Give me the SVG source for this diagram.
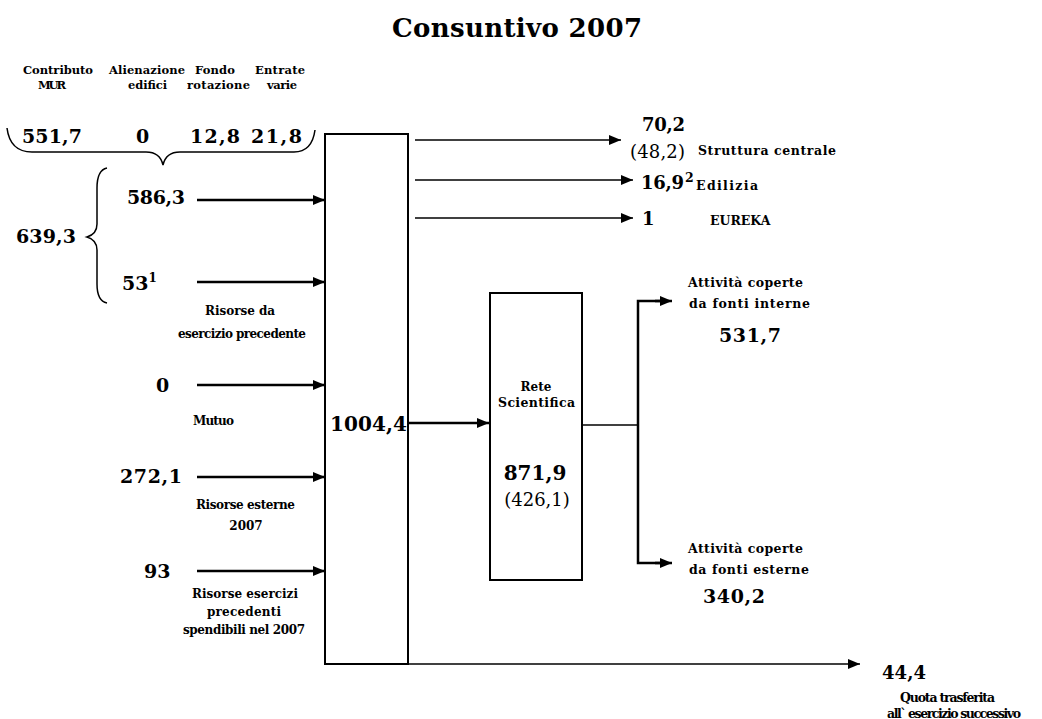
<svg xmlns="http://www.w3.org/2000/svg" width="1042" height="719" viewBox="0 0 1042 719">
<style>
text{font-family:"DejaVu Serif","Liberation Serif",serif;fill:#000}
.t{font-size:26px;font-weight:bold}
.n{font-size:19px;font-weight:bold}
.rn{font-size:18px;font-weight:bold}
.big{font-size:20px;font-weight:bold}
.h{font-size:11.5px;font-weight:bold}
.s{font-size:12px;font-weight:bold}
.m{font-size:12.5px;font-weight:bold}
.p{font-size:18px}
.c{text-anchor:middle}
.th{stroke:#000;stroke-width:2.5;fill:none}
.tn{stroke:#000;stroke-width:1.5;fill:none}
.box{stroke:#000;stroke-width:2;fill:#fff}
</style>
<defs>
<marker id="ah" viewBox="0 0 12 10" refX="12" refY="5" markerWidth="12" markerHeight="10" markerUnits="userSpaceOnUse" orient="auto">
<path d="M0,0 L12,5 L0,10 Z" fill="#000"/>
</marker>
</defs>
<rect width="1042" height="719" fill="#fff"/>
<text class="t" x="392" y="37" textLength="250">Consuntivo 2007</text>

<g id="header">
<text class="h" x="23" y="74" textLength="70">Contributo</text>
<text class="h" x="38" y="89" textLength="28">MUR</text>
<text class="h" x="109" y="74" textLength="76">Alienazione</text>
<text class="h" x="128" y="89" textLength="39">edifici</text>
<text class="h" x="195" y="74" textLength="40">Fondo</text>
<text class="h" x="187" y="89" textLength="63">rotazione</text>
<text class="h" x="255" y="74" textLength="50">Entrate</text>
<text class="h" x="267" y="89" textLength="30">varie</text>
<text class="n" x="22" y="143" textLength="60">551,7</text>
<text class="n" x="136" y="143">0</text>
<text class="n" x="190" y="143" textLength="50">12,8</text>
<text class="n" x="251" y="143" textLength="51">21,8</text>
<path class="tn" d="M7,128 Q10,152 32,152 L146,152 Q160,152 163,165 Q166,152 180,152 L294,152 Q312,152 315,130"/>
</g>

<g id="sources">
<path class="tn" d="M107,168 Q97,170 97,188 L97,224 Q97,234 87,237 Q97,240 97,250 L97,284 Q97,301 107,303"/>
<text class="n" x="16" y="243" textLength="60">639,3</text>
<text class="n" x="127" y="204" textLength="58">586,3</text>
<text class="n" x="122" y="290">53<tspan font-size="12" dy="-8">1</tspan></text>
<text class="s" x="205" y="315" textLength="70">Risorse da</text>
<text class="s" x="178" y="338" textLength="128">esercizio precedente</text>
<text class="n" x="156" y="392">0</text>
<text class="s" x="193" y="425" textLength="41">Mutuo</text>
<text class="n" x="120" y="483" textLength="62">272,1</text>
<text class="s" x="196" y="509" textLength="99">Risorse esterne</text>
<text class="s c" x="246" y="530">2007</text>
<text class="n" x="144" y="578">93</text>
<text class="s" x="192" y="598" textLength="106">Risorse esercizi</text>
<text class="s" x="207" y="616" textLength="74">precedenti</text>
<text class="s" x="183" y="634" textLength="122">spendibili nel 2007</text>
</g>

<g id="central">
<rect class="box" x="325" y="134" width="83" height="530"/>
<text class="big" x="330" y="431" textLength="77">1004,4</text>
</g>

<g id="rete">
<rect class="box" x="490" y="293" width="92" height="287"/>
<text class="s c" x="536" y="391">Rete</text>
<text class="m" x="498" y="407" textLength="77">Scientifica</text>
<text class="big c" x="535" y="480">871,9</text>
<text class="p c" x="537" y="506" font-size="20">(426,1)</text>
</g>

<g id="outputs">
<text class="rn" x="642" y="131" textLength="43">70,2</text>
<text class="p" x="630" y="158" textLength="55">(48,2)</text>
<text class="m" x="698" y="155" textLength="138">Struttura centrale</text>
<text class="rn" x="641" y="189" textLength="43">16,9</text>
<text class="m" x="685" y="182" font-size="11" font-weight="normal">2</text>
<text class="m" x="696" y="190" textLength="62">Edilizia</text>
<text class="rn" x="642" y="225">1</text>
<text class="m" x="710" y="225" font-size="13">EUREKA</text>
<text class="m" x="688" y="287" textLength="115">Attività coperte</text>
<text class="m" x="689" y="308" textLength="121">da fonti interne</text>
<text class="n" x="719" y="342" textLength="62">531,7</text>
<text class="m" x="688" y="553" textLength="115">Attività coperte</text>
<text class="m" x="689" y="574" textLength="120">da fonti esterne</text>
<text class="n" x="703" y="603" textLength="62">340,2</text>
<text class="rn" x="882" y="679" textLength="44">44,4</text>
<text class="m" x="900" y="702" textLength="95">Quota trasferita</text>
<text class="m" x="887" y="718" textLength="134">all` esercizio successivo</text>
</g>

<g id="connectors">
<line class="th" x1="197" y1="200" x2="325" y2="200" marker-end="url(#ah)"/>
<line class="th" x1="197" y1="282" x2="325" y2="282" marker-end="url(#ah)"/>
<line class="th" x1="197" y1="385" x2="325" y2="385" marker-end="url(#ah)"/>
<line class="th" x1="197" y1="477" x2="325" y2="477" marker-end="url(#ah)"/>
<line class="th" x1="197" y1="571" x2="325" y2="571" marker-end="url(#ah)"/>
<line class="tn" x1="415" y1="140" x2="621" y2="140" marker-end="url(#ah)"/>
<line class="tn" x1="415" y1="180" x2="633" y2="180" marker-end="url(#ah)"/>
<line class="tn" x1="415" y1="218" x2="633" y2="218" marker-end="url(#ah)"/>
<line class="th" x1="408" y1="423" x2="489" y2="423" marker-end="url(#ah)"/>
<line class="tn" x1="582" y1="425" x2="638" y2="425"/>
<polyline class="th" points="660,301 638,301 638,563 660,563"/>
<line class="th" x1="655" y1="301" x2="672" y2="301" marker-end="url(#ah)"/>
<line class="th" x1="655" y1="563" x2="672" y2="563" marker-end="url(#ah)"/>
<line class="tn" x1="408" y1="664" x2="860" y2="664" marker-end="url(#ah)"/>
</g>
</svg>
